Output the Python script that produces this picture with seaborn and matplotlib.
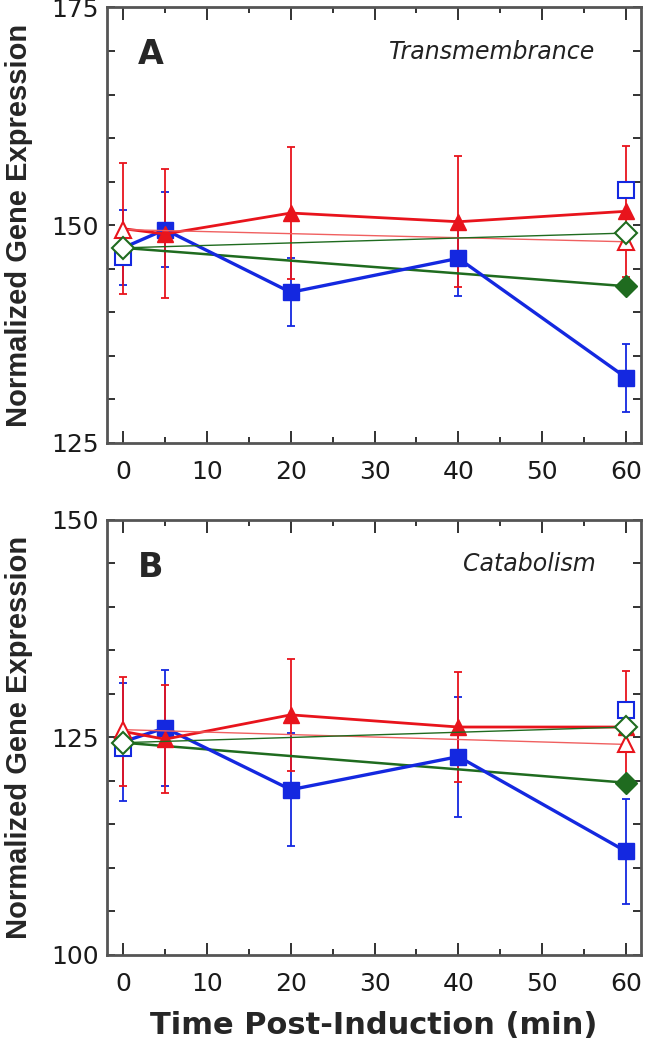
import numpy as np
import pandas as pd
import matplotlib
matplotlib.use("Agg")
import matplotlib.pyplot as plt
import seaborn as sns
from matplotlib.ticker import MultipleLocator

# ── DATA ─────────────────────────────────────────────────────
TIME      = [0, 5, 20, 40, 60]
TIME_CTRL = [0, 60]

# panel A (Transmembrance)
A_blue       = [147.4, 149.5, 142.3, 146.2, 132.5]
A_blue_err   = [4.3, 4.3, 3.9, 4.3, 3.9]
A_red        = [149.6, 149.0, 151.4, 150.4, 151.6]
A_red_err    = [7.5, 7.4, 7.6, 7.5, 7.5]
A_green_fill = [147.4, 143.0]
A_green_open = [147.4, 149.1]
A_red_open   = [149.5, 148.1]
A_blue_open  = [146.4, 154.1]

# panel B (Catabolism)
B_blue       = [124.5, 126.1, 119.0, 122.8, 111.9]
B_blue_err   = [6.8, 6.7, 6.5, 6.9, 6.0]
B_red        = [125.7, 124.8, 127.6, 126.2, 126.2]
B_red_err    = [6.3, 6.2, 6.4, 6.3, 6.4]
B_green_fill = [124.4, 119.8]
B_green_open = [124.4, 126.2]
B_red_open   = [125.9, 124.2]
B_blue_open  = [123.8, 128.2]

BLUE  = "#1428e0"
RED   = "#e8141c"
GREEN = "#1f6b1f"

# ── STYLE ────────────────────────────────────────────────────
sns.set_style("ticks")
plt.rcParams["font.family"] = ["DejaVu Sans"]

fig = plt.figure(figsize=(6.49, 10.5), dpi=100)
ax_a = fig.add_axes([0.165, 0.5781, 0.823, 0.4148])
ax_b = fig.add_axes([0.165, 0.0905, 0.823, 0.4143])


def draw_panel(ax, blue, blue_err, red, red_err, g_fill, g_open, r_open, b_open):
    # error bars
    ax.errorbar(TIME, blue, yerr=blue_err, fmt="none", ecolor=BLUE,
                elinewidth=1.3, capsize=3, capthick=1.3, zorder=2)
    ax.errorbar(TIME, red, yerr=red_err, fmt="none", ecolor=RED,
                elinewidth=1.3, capsize=3, capthick=1.3, zorder=2)

    # filled time courses (no marker at t=0, the control marks sit there)
    sns.lineplot(x=TIME, y=blue, ax=ax, color=BLUE, lw=2.4,
                 marker="s", markersize=12, markerfacecolor=BLUE,
                 markeredgecolor=BLUE, markeredgewidth=1,
                 markevery=[1, 2, 3, 4], zorder=5)
    sns.lineplot(x=TIME, y=red, ax=ax, color=RED, lw=2.0,
                 marker="^", markersize=11, markerfacecolor=RED,
                 markeredgecolor=RED, markeredgewidth=1,
                 markevery=[1, 2, 3, 4], zorder=6)

    # controls
    sns.lineplot(x=TIME_CTRL, y=g_fill, ax=ax, color=GREEN, lw=1.8,
                 marker="D", markersize=11, markerfacecolor=GREEN,
                 markeredgecolor=GREEN, markeredgewidth=1,
                 markevery=[1], zorder=4)
    sns.lineplot(x=TIME_CTRL, y=r_open, ax=ax, color="#f06060", lw=1.0,
                 marker="^", markersize=11, markerfacecolor="white",
                 markeredgecolor=RED, markeredgewidth=1.5, zorder=7)
    sns.lineplot(x=TIME_CTRL, y=b_open, ax=ax, color=BLUE, lw=0,
                 marker="s", markersize=11, markerfacecolor="white",
                 markeredgecolor=BLUE, markeredgewidth=1.5, zorder=7)
    sns.lineplot(x=TIME_CTRL, y=g_open, ax=ax, color=GREEN, lw=1.0,
                 marker="D", markersize=11, markerfacecolor="white",
                 markeredgecolor=GREEN, markeredgewidth=1.5, zorder=8)

    ax.set_xlim(-1.9, 61.8)
    ax.xaxis.set_major_locator(MultipleLocator(10))
    ax.xaxis.set_minor_locator(MultipleLocator(5))
    ax.yaxis.set_major_locator(MultipleLocator(25))
    ax.yaxis.set_minor_locator(MultipleLocator(5))
    ax.tick_params(axis="both", which="both", direction="in",
                   top=True, right=True, color="#222222", width=1.3)
    ax.tick_params(axis="x", which="major", length=9, pad=12,
                   labelsize=18, labelcolor="#1a1a1a")
    ax.tick_params(axis="x", which="minor", length=4)
    ax.tick_params(axis="y", which="both", length=6, pad=6,
                   labelsize=18, labelcolor="#1a1a1a")
    for sp in ax.spines.values():
        sp.set_color("#555555")
        sp.set_linewidth(2.0)
    ax.set_xlabel("")
    ax.set_ylabel("Normalized Gene Expression", fontsize=21,
                  fontweight="bold", family=["Liberation Sans"],
                  va="center")
    ax.yaxis.set_label_coords(-0.165, 0.5)


draw_panel(ax_a, A_blue, A_blue_err, A_red, A_red_err,
           A_green_fill, A_green_open, A_red_open, A_blue_open)
ax_a.set_ylim(125, 175)
ax_a.text(0.082, 0.893, "A", transform=ax_a.transAxes, fontsize=24,
          fontweight="bold", ha="center", va="center")
ax_a.text(0.914, 0.898, "Transmembrance", transform=ax_a.transAxes,
          fontsize=17, style="italic", ha="right", va="center", color="#222222")

draw_panel(ax_b, B_blue, B_blue_err, B_red, B_red_err,
           B_green_fill, B_green_open, B_red_open, B_blue_open)
ax_b.set_ylim(100, 150)
ax_b.text(0.082, 0.89, "B", transform=ax_b.transAxes, fontsize=24,
          fontweight="bold", ha="center", va="center")
ax_b.text(0.914, 0.899, "Catabolism", transform=ax_b.transAxes,
          fontsize=17, style="italic", ha="right", va="center", color="#222222")
ax_b.set_xlabel("Time Post-Induction (min)", fontsize=22, fontweight="bold")
ax_b.xaxis.set_label_coords(0.5, -0.163)
ax_b.xaxis.label.set_va("center")

fig.savefig("out.png", dpi=100)
